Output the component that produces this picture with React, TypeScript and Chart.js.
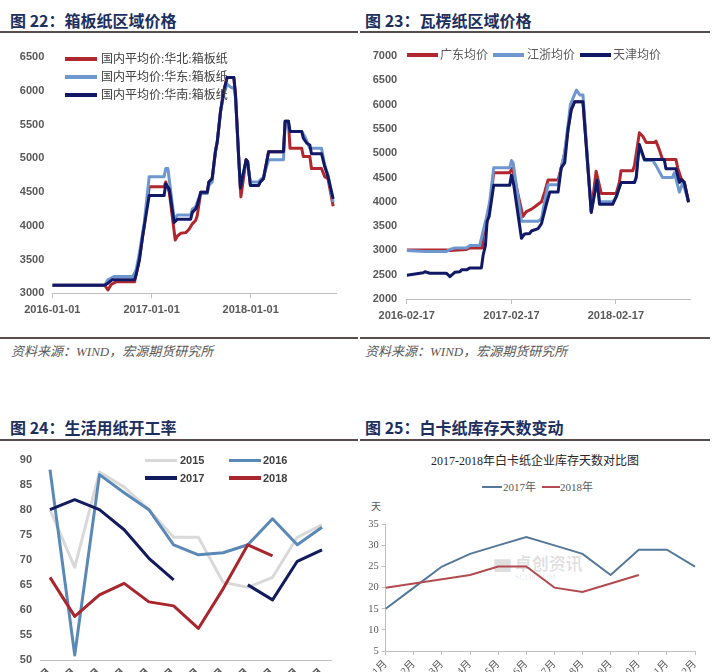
import React, { useEffect, useRef } from "react";
import { Chart, registerables } from "chart.js";

Chart.register(...registerables);

type P = [number, number];

// ---------- 图22：箱板纸区域价格 (x = days since 2016-01-01) ----------
const boxTickDays = [0, 366, 731];
const boxTickLabels = ["2016-01-01", "2017-01-01", "2018-01-01"];
const boxLegend = ["国内平均价:华北:箱板纸", "国内平均价:华东:箱板纸", "国内平均价:华南:箱板纸"];
const boxNorth: P[] = [
  [0, 3120], [193, 3120], [205, 3050], [217, 3130], [235, 3170], [303, 3170], [309, 3280], [321, 3500],
  [333, 3850], [339, 4000], [357, 4580], [412, 4580], [418, 4650], [431, 4500], [453, 3790], [461, 3850],
  [473, 3890], [492, 3900], [504, 3950], [516, 4030], [528, 4080], [534, 4150], [547, 4500], [571, 4500],
  [577, 4650], [589, 4700], [601, 5100], [608, 5250], [620, 5700], [632, 6000], [644, 6200], [669, 6200],
  [675, 5950], [687, 5000], [695, 4430], [714, 4980], [720, 4950], [730, 4600], [760, 4600], [766, 4650],
  [778, 4700], [797, 5100], [852, 5100], [858, 5550], [870, 5550], [876, 5150], [919, 5150], [925, 5030],
  [949, 5030], [955, 4850], [992, 4850], [1004, 4730], [1016, 4700], [1035, 4290],
];
const boxEast: P[] = [
  [0, 3120], [193, 3120], [205, 3200], [229, 3250], [296, 3250], [303, 3300], [309, 3350], [321, 3600],
  [333, 3900], [339, 4050], [357, 4730], [412, 4730], [418, 4850], [426, 4850], [449, 4100], [461, 4160],
  [510, 4160], [516, 4250], [528, 4280], [534, 4350], [547, 4480], [571, 4480], [577, 4600], [589, 4650],
  [601, 5100], [608, 5250], [620, 5700], [632, 5950], [644, 6100], [660, 6050], [669, 6050], [675, 5900],
  [687, 5000], [693, 4600], [714, 4950], [720, 4900], [730, 4650], [760, 4650], [766, 4680], [778, 4720],
  [797, 4980], [852, 4980], [858, 5550], [870, 5550], [876, 5400], [919, 5400], [931, 5320], [949, 5150],
  [992, 5150], [1004, 4900], [1016, 4750], [1035, 4350],
];
const boxSouth: P[] = [
  [0, 3120], [193, 3120], [205, 3150], [220, 3200], [303, 3200], [309, 3280], [321, 3500], [333, 3850],
  [339, 4000], [357, 4450], [412, 4450], [418, 4620], [431, 4550], [449, 4050], [461, 4100], [510, 4100],
  [516, 4200], [528, 4250], [534, 4300], [547, 4500], [571, 4500], [577, 4650], [589, 4700], [601, 5100],
  [608, 5250], [620, 5700], [632, 6000], [644, 6200], [669, 6200], [675, 5950], [687, 5000], [693, 4560],
  [714, 4980], [720, 4950], [730, 4600], [760, 4600], [766, 4650], [778, 4700], [797, 5100], [852, 5100],
  [858, 5550], [870, 5550], [876, 5400], [919, 5400], [925, 5300], [937, 5230], [949, 5200], [955, 5070],
  [992, 5070], [1004, 4880], [1016, 4730], [1035, 4400],
];

// ---------- 图23：瓦楞纸区域价格 (x = days since 2016-02-17) ----------
const corrTickDays = [0, 366, 731];
const corrTickLabels = ["2016-02-17", "2017-02-17", "2018-02-17"];
const corrLegend = ["广东均价", "江浙均价", "天津均价"];
const corrGuangdong: P[] = [
  [0, 3010], [139, 3010], [151, 3000], [209, 3020], [221, 3050], [264, 3050], [267, 3300], [281, 3600],
  [288, 3800], [304, 4600], [360, 4600], [370, 4700], [378, 4450], [406, 3700], [418, 3800], [436, 3850],
  [448, 3900], [459, 3950], [471, 4000], [482, 4200], [494, 4450], [529, 4450], [540, 4700], [552, 5000],
  [564, 5500], [575, 5900], [587, 6060], [616, 6060], [645, 3800], [662, 4630], [680, 4170], [732, 4170],
  [743, 4400], [749, 4640], [790, 4640], [796, 4750], [813, 5420], [825, 5350], [837, 5220], [866, 5220],
  [871, 5250], [883, 5070], [894, 4870], [941, 4870], [947, 4700], [959, 4480], [970, 4400], [985, 4000],
];
const corrJiangzhe: P[] = [
  [0, 3000], [64, 2980], [139, 2980], [151, 3020], [168, 3050], [209, 3050], [221, 3100], [255, 3100],
  [267, 3400], [278, 3660], [290, 4000], [304, 4700], [360, 4700], [366, 4850], [372, 4800], [401, 3600],
  [459, 3600], [471, 3650], [482, 4000], [494, 4350], [529, 4350], [540, 4700], [552, 5020], [564, 5600],
  [572, 6000], [593, 6300], [605, 6200], [616, 6200], [645, 3800], [665, 4450], [674, 4000], [720, 4000],
  [732, 4100], [749, 4400], [796, 4400], [802, 4500], [811, 5150], [831, 4850], [860, 4850], [871, 4750],
  [894, 4500], [929, 4500], [935, 4600], [953, 4200], [965, 4400], [985, 4000],
];
const corrTianjin: P[] = [
  [0, 2490], [35, 2520], [58, 2540], [64, 2560], [81, 2530], [139, 2530], [151, 2460], [168, 2550],
  [186, 2560], [192, 2600], [209, 2600], [221, 2640], [261, 2640], [267, 2900], [275, 3100], [281, 3600],
  [288, 3700], [304, 4340], [360, 4340], [366, 4550], [374, 4350], [401, 3250], [412, 3340], [430, 3350],
  [436, 3400], [459, 3450], [471, 3550], [488, 3950], [500, 4200], [529, 4200], [540, 4700], [552, 4800],
  [564, 5500], [575, 5900], [587, 6060], [616, 6060], [645, 3780], [665, 4450], [674, 3950], [720, 3950],
  [732, 4100], [749, 4400], [796, 4400], [802, 4500], [813, 5180], [831, 4870], [900, 4870], [906, 4680],
  [941, 4680], [953, 4400], [959, 4460], [970, 4400], [985, 3990],
];

// ---------- 图24：生活用纸开工率 ----------
const tissueMonths = ["1月", "2月", "3月", "4月", "5月", "6月", "7月", "8月", "9月", "10月", "11月", "12月"];
const tissueLegend = ["2015", "2016", "2017", "2018"];
const tissue2015 = [80, 68.5, 87.5, 84.5, 80, 74.5, 74.5, 65.5, 64.5, 66.5, 74.5, 77];
const tissue2016 = [88, 51, 87, 83.4, 80, 73, 71, 71.4, 73, 78.2, 73, 76.5];
const tissue2017 = [80, 82, 80, 76, 70.3, 66, null, null, 65, 62, 69.7, 72];
const tissue2018 = [66.5, 58.7, 63, 65.3, 61.6, 60.8, 56.3, 64.2, 73, 70.8, null, null];

// ---------- 图25：白卡纸库存天数变动 ----------
const cardMonths = ["1月", "2月", "3月", "4月", "5月", "6月", "7月", "8月", "9月", "10月", "11月", "12月"];
const cardLegend = ["2017年", "2018年"];
const card2017 = [15, 20, 25, 28, 30, 32, 30, 28, 23, 29, 29, 25];
const card2018 = [20, 21, 22, 23, 25, 25, 20, 19, 21, 23, null, null];

// ---------- styles ----------
const RED = "#B0272D";
const LBLUE = "#6E97CF";
const NAVY = "#111966";
const C15 = "#D9D9D9";
const C16 = "#5B89B7";
const C17 = "#121B5E";
const C18 = "#A8262C";
const K17 = "#55789A";
const K18 = "#B24A50";
const TICK = "#595959";
const AXIS = "#BFBFBF";
const SANS = '"Liberation Sans", Arial, "Noto Sans CJK SC", sans-serif';
const SERIF = '"Liberation Serif", "Noto Sans CJK SC", serif';
const CJK = '"Noto Sans CJK SC", sans-serif';

const fixW = (w: number) => (s: any) => { s.width = w; };
const fixH = (h: number) => (s: any) => { s.height = h; };
const plain = (v: any) => String(v);

function priceConfig(
  sets: { label: string; data: P[]; color: string; order: number }[],
  xMax: number, tickDays: number[], tickLabels: string[], yMin: number, yMax: number,
  pad: any, yW: number, xH: number, yPad: number,
): any {
  return {
    type: "line",
    data: {
      datasets: sets.map((s) => ({
        label: s.label,
        data: s.data.map(([x, y]) => ({ x, y })),
        borderColor: s.color,
        backgroundColor: s.color,
        borderWidth: 3,
        pointRadius: 0,
        order: s.order,
        tension: 0,
        borderJoinStyle: "round",
      })),
    },
    options: {
      animation: false,
      responsive: false,
      events: [],
      layout: { padding: pad },
      plugins: { legend: { display: false }, tooltip: { enabled: false }, title: { display: false } },
      scales: {
        x: {
          type: "linear", min: 0, max: xMax,
          afterFit: fixH(xH),
          afterBuildTicks: (s: any) => { s.ticks = tickDays.map((v) => ({ value: v })); },
          ticks: {
            callback: (_v: any, i: number) => tickLabels[i],
            autoSkip: false, maxRotation: 0, minRotation: 0, color: TICK, padding: 5,
            font: { family: SANS, size: 11, weight: "bold" },
          },
          grid: { display: true, drawOnChartArea: false, drawTicks: true, tickLength: 5, color: AXIS },
          border: { display: true, color: AXIS, width: 1 },
        },
        y: {
          type: "linear", min: yMin, max: yMax,
          afterFit: fixW(yW),
          ticks: { stepSize: 500, callback: plain, color: TICK, padding: yPad, font: { family: SANS, size: 11, weight: "bold" } },
          grid: { display: false, drawTicks: false },
          border: { display: false },
        },
      },
    },
  };
}

const boxConfig = priceConfig(
  [
    { label: boxLegend[0], data: boxNorth, color: RED, order: 2 },
    { label: boxLegend[1], data: boxEast, color: LBLUE, order: 1 },
    { label: boxLegend[2], data: boxSouth, color: NAVY, order: 0 },
  ],
  1048, boxTickDays, boxTickLabels, 3000, 6500,
  { left: 0, right: 18.3, top: 17.3, bottom: 0 }, 52.3, 36.7, 8,
);

const corrConfig = priceConfig(
  [
    { label: corrLegend[0], data: corrGuangdong, color: RED, order: 2 },
    { label: corrLegend[1], data: corrJiangzhe, color: LBLUE, order: 1 },
    { label: corrLegend[2], data: corrTianjin, color: NAVY, order: 0 },
  ],
  990, corrTickDays, corrTickLabels, 2000, 7000,
  { left: 0, right: 25, top: 12.3, bottom: 0 }, 46.7, 31, 9.5,
);

const tissueSeries = [tissue2015, tissue2016, tissue2017, tissue2018];
const tissueColors = [C15, C16, C17, C18];
const tissueConfig: any = {
  type: "line",
  data: {
    datasets: tissueSeries.map((arr, k) => ({
      label: tissueLegend[k],
      data: arr.map((v, i) => ({ x: i, y: v })),
      borderColor: tissueColors[k],
      backgroundColor: tissueColors[k],
      borderWidth: 3,
      pointRadius: 0,
      tension: 0,
      spanGaps: false,
      order: 4 - k,
      borderJoinStyle: "round",
    })),
  },
  options: {
    animation: false,
    responsive: false,
    events: [],
    layout: { padding: { left: 0, right: 23.1, top: 14.3, bottom: 0 } },
    plugins: { legend: { display: false }, tooltip: { enabled: false } },
    scales: {
      x: {
        type: "linear", min: -0.4, max: 11.4,
        afterFit: fixH(30),
        afterBuildTicks: (s: any) => { s.ticks = tissueMonths.map((_m, i) => ({ value: i })); },
        ticks: {
          callback: (_v: any, i: number) => tissueMonths[i],
          autoSkip: false, minRotation: 45, maxRotation: 45, color: TICK, padding: 6,
          font: { family: SANS, size: 11, weight: "bold" },
        },
        grid: { display: false, drawTicks: false },
        border: { display: true, color: AXIS, width: 1 },
      },
      y: {
        type: "linear", min: 50, max: 90,
        afterFit: fixW(40.1),
        ticks: { stepSize: 5, callback: plain, color: TICK, padding: 8, font: { family: SANS, size: 11, weight: "bold" } },
        grid: { display: false, drawTicks: false },
        border: { display: false },
      },
    },
  },
};

const cardConfig: any = {
  type: "line",
  data: {
    labels: cardMonths,
    datasets: [
      { label: cardLegend[0], data: card2017, borderColor: K17, backgroundColor: K17, borderWidth: 2, pointRadius: 0, tension: 0, order: 1 },
      { label: cardLegend[1], data: card2018, borderColor: K18, backgroundColor: K18, borderWidth: 2, pointRadius: 0, tension: 0, order: 0 },
    ],
  },
  options: {
    animation: false,
    responsive: false,
    events: [],
    layout: { padding: { left: 0, right: 20, top: 14.3, bottom: 0 } },
    plugins: { legend: { display: false }, tooltip: { enabled: false } },
    scales: {
      x: {
        type: "category", offset: false,
        afterFit: fixH(39),
        ticks: { autoSkip: false, minRotation: 45, maxRotation: 45, color: TICK, padding: 3, font: { family: SERIF, size: 10.5 } },
        grid: { display: true, drawOnChartArea: false, drawTicks: true, tickLength: 4, color: AXIS, offset: false },
        border: { display: true, color: AXIS, width: 1 },
      },
      y: {
        type: "linear", min: 5, max: 35,
        afterFit: fixW(25.7),
        ticks: { stepSize: 5, callback: plain, color: TICK, padding: 3, font: { family: SERIF, size: 10.5 } },
        grid: { display: true, drawOnChartArea: false, drawTicks: true, tickLength: 4, color: AXIS },
        border: { display: true, color: AXIS, width: 1 },
      },
    },
  },
};

function ChartBox({ left, top, width, height, config }: { left: number; top: number; width: number; height: number; config: any }) {
  const ref = useRef<HTMLCanvasElement>(null);
  useEffect(() => {
    const chart = new Chart(ref.current as HTMLCanvasElement, config);
    return () => chart.destroy();
  }, [config]);
  return (
    <canvas
      ref={ref}
      width={width}
      height={height}
      style={{ position: "absolute", left, top, width, height, display: "block" }}
    />
  );
}

function Txt({ x, cy, size, children, style }: { x: number; cy: number; size: number; children: any; style?: any }) {
  const lh = Math.round(size * 1.3);
  return (
    <div
      style={{
        position: "absolute", left: x, top: cy - lh / 2, lineHeight: lh + "px", fontSize: size,
        whiteSpace: "nowrap", ...style,
      }}
    >
      {children}
    </div>
  );
}

function Bar({ x, y, w, h, color }: { x: number; y: number; w: number; h: number; color: string }) {
  return <div style={{ position: "absolute", left: x, top: y, width: w, height: h, background: color }} />;
}

const titleStyle = { fontFamily: CJK, fontWeight: 700, color: "#1C2F5E" };
const srcStyle = { fontFamily: SERIF, fontStyle: "italic", color: "#595959" };
const legStyle = { fontFamily: SERIF, color: "#404040" };
const RULE = "#574D4D";

export default function App() {
  return (
    <div style={{ position: "fixed", left: 0, top: 0, width: 720, height: 672, overflow: "hidden", background: "#fff" }}>
      {/* Panel 22 */}
      <Txt x={10} cy={20} size={16} style={titleStyle}>图 22：箱板纸区域价格</Txt>
      <Bar x={0} y={30.5} w={358} h={2} color={RULE} />
      <ChartBox left={0} top={40} width={355} height={290} config={boxConfig} />
      {[RED, LBLUE, NAVY].map((c, i) => (
        <React.Fragment key={"bl" + i}>
          <Bar x={65} y={[59.3, 77.3, 95][i] - 2} w={32} h={4} color={c} />
          <Txt x={101} cy={[59.3, 77.3, 95][i]} size={12} style={legStyle}>{boxLegend[i]}</Txt>
        </React.Fragment>
      ))}
      <Bar x={0} y={336.5} w={358} h={2} color={RULE} />
      <Txt x={11} cy={351} size={13} style={srcStyle}>资料来源：WIND，宏源期货研究所</Txt>

      {/* Panel 23 */}
      <Txt x={365} cy={20} size={16} style={titleStyle}>图 23：瓦楞纸区域价格</Txt>
      <Bar x={360} y={30.5} w={350} h={2} color={RULE} />
      <ChartBox left={360} top={40} width={355} height={290} config={corrConfig} />
      {[RED, LBLUE, NAVY].map((c, i) => (
        <React.Fragment key={"cl" + i}>
          <Bar x={[407, 493, 580][i]} y={53} w={31} h={4} color={c} />
          <Txt x={[440, 527, 613][i]} cy={55} size={12} style={{ ...legStyle, color: "#595959" }}>{corrLegend[i]}</Txt>
        </React.Fragment>
      ))}
      <Bar x={360} y={336.5} w={350} h={2} color={RULE} />
      <Txt x={365} cy={351} size={13} style={srcStyle}>资料来源：WIND，宏源期货研究所</Txt>

      {/* Panel 24 */}
      <Txt x={10} cy={427} size={16} style={titleStyle}>图 24：生活用纸开工率</Txt>
      <Bar x={0} y={438.5} w={358} h={2} color={RULE} />
      <ChartBox left={0} top={445} width={355} height={245} config={tissueConfig} />
      {tissueColors.map((c, i) => (
        <React.Fragment key={"tl" + i}>
          <Bar x={[145, 229][i % 2]} y={[460, 477.7][Math.floor(i / 2)] - 1.5} w={32} h={3.5} color={c} />
          <Txt x={[180, 263][i % 2]} cy={[460, 477.7][Math.floor(i / 2)]} size={11} style={{ fontFamily: SANS, fontWeight: 700, color: "#404040" }}>
            {tissueLegend[i]}
          </Txt>
        </React.Fragment>
      ))}

      {/* Panel 25 */}
      <Txt x={365} cy={427} size={16} style={titleStyle}>图 25：白卡纸库存天数变动</Txt>
      <Bar x={360} y={438.5} w={350} h={2} color={RULE} />
      <div
        style={{
          position: "absolute", left: 360, width: 350, top: 453, lineHeight: "16px", textAlign: "center",
          fontFamily: SERIF, fontSize: 12, color: "#262626",
        }}
      >
        2017-2018年白卡纸企业库存天数对比图
      </div>
      <Bar x={482} y={485.7} w={20} h={2} color={K17} />
      <Txt x={503} cy={486.7} size={11} style={{ fontFamily: SERIF, color: TICK }}>{cardLegend[0]}</Txt>
      <Bar x={542} y={485.7} w={18} h={2} color={K18} />
      <Txt x={560} cy={486.7} size={11} style={{ fontFamily: SERIF, color: TICK }}>{cardLegend[1]}</Txt>
      <Txt x={371} cy={506} size={10} style={{ fontFamily: SERIF, color: TICK }}>天</Txt>
      <Txt x={494} cy={563} size={17} style={{ fontFamily: CJK, fontWeight: 700, color: "rgba(0,0,0,0.12)" }}>▆ 卓创资讯</Txt>
      <Txt x={515} cy={578} size={8} style={{ fontFamily: SERIF, color: "rgba(0,0,0,0.12)" }}>SCI99.COM</Txt>
      <ChartBox left={360} top={510} width={355} height={180} config={cardConfig} />
    </div>
  );
}
